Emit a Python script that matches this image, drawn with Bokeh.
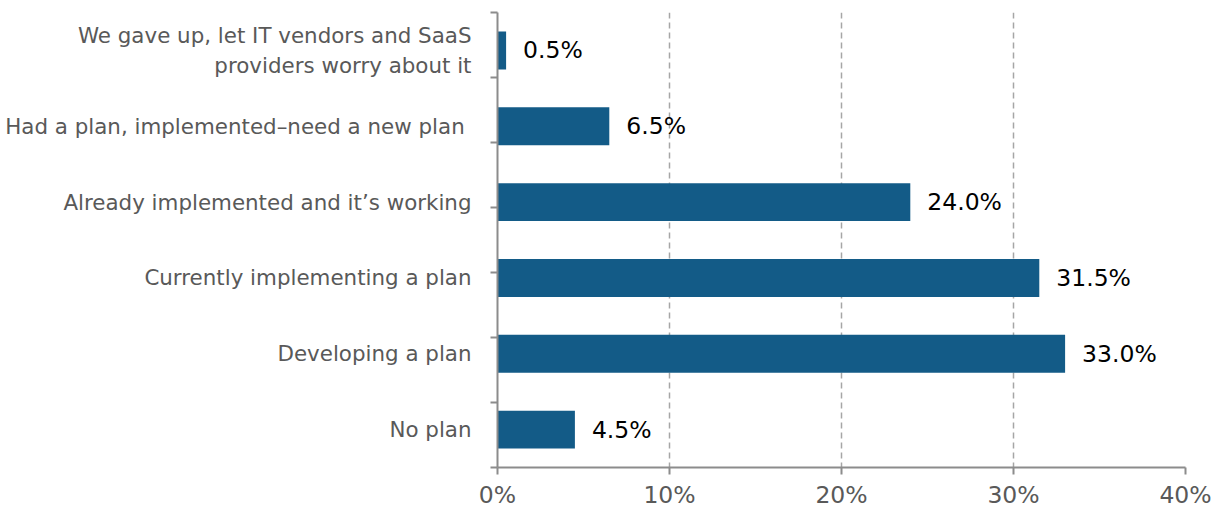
from bokeh.plotting import figure
from bokeh.models import Range1d, FixedTicker, PrintfTickFormatter, ColumnDataSource, LabelSet
from bokeh.core.properties import value
from bokeh.embed import file_html
from bokeh.resources import INLINE

categories = [
    "We gave up, let IT vendors and SaaS\nproviders worry about it",
    "Had a plan, implemented\u2013need a new plan ",
    "Already implemented and it\u2019s working",
    "Currently implementing a plan",
    "Developing a plan",
    "No plan",
]
values = [0.5, 6.5, 24.0, 31.5, 33.0, 4.5]
value_labels = ["0.5%", "6.5%", "24.0%", "31.5%", "33.0%", "4.5%"]
x_ticks = [0, 10, 20, 30, 40]

FONT = "DejaVu Sans"
BAR = "#135B87"
GRAY = "#8C8C8C"
TXT = "#595959"

n = len(categories)
pos = [i + 0.5 for i in range(n)]

src = ColumnDataSource(dict(y=pos, v=values, lab=value_labels))

p = figure(
    output_backend="svg", toolbar_location=None,
    frame_width=688, frame_height=455,
    min_border_left=497, min_border_top=12, min_border_right=27, min_border_bottom=33,
    x_range=Range1d(0, 40), y_range=Range1d(n, 0),
)
p.outline_line_color = None
p.background_fill_color = "white"

p.hbar(y="y", right="v", left=0, height=0.5, source=src, fill_color=BAR, line_color=None)

labels = LabelSet(x="v", y="y", text="lab", source=src, x_offset=17, text_baseline="middle",
                  text_font=value(FONT), text_font_size="23.5px", text_color="#000000")
p.add_layout(labels)

# x axis
xa = p.xaxis[0]
xa.ticker = FixedTicker(ticks=x_ticks)
xa.formatter = PrintfTickFormatter(format="%d%%")
xa.axis_line_color = GRAY
xa.axis_line_width = 2
xa.major_tick_line_color = GRAY
xa.major_tick_line_width = 2
xa.major_tick_out = 7
xa.major_tick_in = 0
xa.minor_tick_line_color = None
xa.major_label_text_font = FONT
xa.major_label_text_font_size = "23.5px"
xa.major_label_text_color = TXT
xa.major_label_standoff = 6

# y axis
ya = p.yaxis[0]
ya.ticker = FixedTicker(ticks=pos, minor_ticks=[k * n / 7 for k in range(8)])
ya.major_label_overrides = {pos[i]: categories[i] for i in range(n)}
ya.axis_line_color = GRAY
ya.axis_line_width = 2
ya.major_tick_line_color = None
ya.major_tick_out = 0
ya.major_tick_in = 0
ya.minor_tick_line_color = GRAY
ya.minor_tick_line_width = 2
ya.minor_tick_out = 7
ya.minor_tick_in = 0
ya.major_label_text_font = FONT
ya.major_label_text_font_size = "21.4px"
ya.major_label_text_color = TXT
ya.major_label_standoff = 19

p.ygrid.grid_line_color = None
p.xgrid.ticker = FixedTicker(ticks=x_ticks[1:])
p.xgrid.grid_line_color = "#A6A6A6"
p.xgrid.grid_line_dash = "6 4"
p.xgrid.grid_line_width = 1.5

open("out.html", "w").write(file_html(p, INLINE))
